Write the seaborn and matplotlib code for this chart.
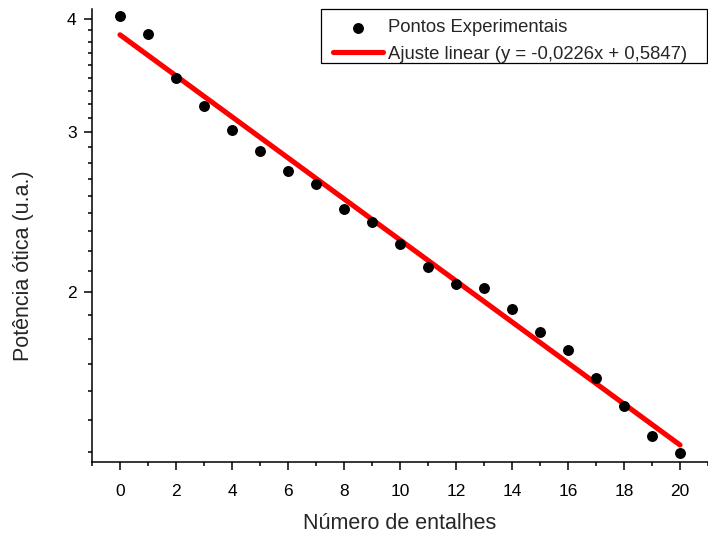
import numpy as np
import pandas as pd
import matplotlib
matplotlib.use("Agg")
import matplotlib.pyplot as plt
from matplotlib.patches import Rectangle
import seaborn as sns
from matplotlib.ticker import FixedLocator, MultipleLocator, NullFormatter, FuncFormatter

# ---- data ----
entalhes = list(range(21))
potencia = [4.03, 3.85, 3.44, 3.21, 3.02, 2.86, 2.72, 2.63, 2.47, 2.39,
            2.26, 2.13, 2.04, 2.02, 1.917, 1.808, 1.729, 1.609, 1.499, 1.390, 1.330]
fit_slope = -0.0226
fit_intercept = 0.5847
fit_x = [0, 20]

y_major = [2, 3, 4]
y_minor = [m + k / 9 for m in [1, 2, 3] for k in range(1, 9)]
x_major = list(range(0, 21, 2))

label_pts = "Pontos Experimentais"
label_fit = "Ajuste linear (y = -0,0226x + 0,5847)"

df_pts = pd.DataFrame({"x": entalhes, "y": potencia})
df_fit = pd.DataFrame({"x": fit_x,
                       "y": [10 ** (fit_slope * v + fit_intercept) for v in fit_x]})

sns.set_theme(style="ticks")
plt.rcParams["font.family"] = ["Liberation Sans", "DejaVu Sans"]

fig = plt.figure(figsize=(7.08, 5.38), dpi=100)
ax = fig.add_axes([92 / 708, 1 - 462 / 538, 616 / 708, (462 - 9.3) / 538])

sns.scatterplot(data=df_pts, x="x", y="y", ax=ax, color="black", s=62,
                linewidth=0, label=label_pts, zorder=3)
sns.lineplot(data=df_fit, x="x", y="y", ax=ax, color="#ff0000", linewidth=3.7,
             label=label_fit, zorder=2)

ax.set_yscale("log")
ax.set_xlim(-1, 21)
ax.set_ylim(1.3, 4.1)
ax.yaxis.set_major_locator(FixedLocator(y_major))
ax.yaxis.set_major_formatter(FuncFormatter(lambda v, p: f"{v:g}"))
ax.yaxis.set_minor_locator(FixedLocator(y_minor))
ax.yaxis.set_minor_formatter(NullFormatter())
ax.xaxis.set_major_locator(FixedLocator(x_major))
ax.xaxis.set_minor_locator(MultipleLocator(1))

for side in ["top", "right"]:
    ax.spines[side].set_visible(False)
for side in ["left", "bottom"]:
    ax.spines[side].set_linewidth(1.1)
    ax.spines[side].set_color("black")

ax.tick_params(axis="both", which="major", direction="out", length=6, width=1.1,
               labelsize=12.5, colors="black")
ax.tick_params(axis="both", which="minor", direction="out", length=3.2, width=1.1,
               colors="black")
ax.tick_params(axis="x", which="major", pad=10)
ax.tick_params(axis="y", which="major", pad=5)

ax.set_xlabel("Número de entalhes", fontsize=15.5)
ax.set_ylabel("Potência ótica (u.a.)", fontsize=15.5)
ax.xaxis.set_label_coords(0.5, -0.113)
ax.yaxis.set_label_coords(-0.094, 0.433)

# legend contents (frame drawn separately to match the box padding)
leg = ax.legend(loc="upper left", bbox_to_anchor=((333 - 92) / 616, (462 - 19.5) / 452.7),
                borderaxespad=0, borderpad=0, fontsize=13.3, frameon=False,
                handlelength=2.7, handletextpad=0.27, labelspacing=0.5)
ax.add_patch(Rectangle((0.3713, (462 - 63) / 452.7), 0.6272, 54 / 452.7,
                       transform=ax.transAxes, fill=False, edgecolor="black",
                       linewidth=0.9, clip_on=False, zorder=5))

fig.savefig("out.png", dpi=100)
